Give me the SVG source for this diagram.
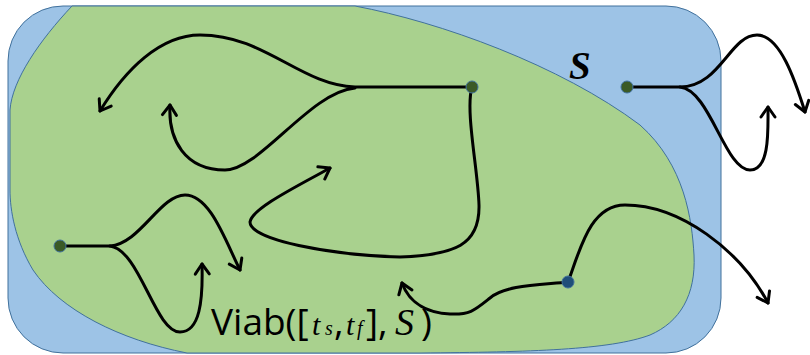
<svg xmlns="http://www.w3.org/2000/svg" width="810" height="355" viewBox="0 0 810 355">
<style>
.tr{fill:none;stroke:#000;stroke-width:3;stroke-linecap:round;stroke-linejoin:round}
.dot{fill:#3b5a26;stroke:#41719c;stroke-width:1}
.lbl{font-family:"Open Sans","Liberation Sans",sans-serif;font-size:37px;fill:#000}
.ser{font-family:"Liberation Serif",serif;font-style:italic}
</style>
<defs>
<marker id="ah" markerUnits="userSpaceOnUse" markerWidth="30" markerHeight="30" refX="0" refY="0" viewBox="-15 -15 30 30" orient="auto" overflow="visible">
<path d="M-10,-7 L0,0 L-10,7" fill="none" stroke="#000" stroke-width="3" stroke-linecap="round" stroke-linejoin="round"/>
</marker>
</defs>
<g id="region-S">
<rect x="8" y="6" width="713" height="347" rx="55" ry="55" fill="#9dc3e6" stroke="#41719c" stroke-width="1"/>
</g>
<g id="region-viab">
<path d="M72,6 L355,6 C440,22 560,65 640,125 C685,165 692,220 694,255 C696,295 680,322 650,335 C610,350 530,352 420,353 L187,353 C120,340 60,310 33,270 C15,240 10,210 10,190 L10,110 C12,80 40,40 72,6 Z" fill="#a9d18e" stroke="#41719c" stroke-width="1"/>
</g>
<g id="connectors">
<path class="tr" d="M472,87 L355,87 C300,85 265,35 200,35 C160,35 125,70 100,111" marker-end="url(#ah)"/>
<path class="tr" d="M355,88 C310,92 260,170 225,170 C185,170 168,140 170,105" marker-end="url(#ah)"/>
<path class="tr" d="M472,87 C465,110 478,170 479,205 C480,245 455,255 400,257 C330,255 250,240 250,222 C252,208 300,185 330,168" marker-end="url(#ah)"/>
<path class="tr" d="M60,246 L110,246 C140,244 160,195 185,195 C210,195 225,240 240,270" marker-end="url(#ah)"/>
<path class="tr" d="M110,246 C140,250 155,332 180,332 C200,332 203,300 202,264" marker-end="url(#ah)"/>
<path class="tr" d="M627,87 L680,87 C720,87 730,35 757,35 C780,35 795,80 805,112" marker-end="url(#ah)"/>
<path class="tr" d="M680,87 C710,90 725,170 750,170 C770,170 768,130 768,107" marker-end="url(#ah)"/>
<path class="tr" d="M568,282 C580,250 590,205 625,205 C680,205 740,250 768,303" marker-end="url(#ah)"/>
<path class="tr" d="M568,282 C540,285 505,285 490,298 C475,310 470,315 450,314 C430,313 410,305 402,283" marker-end="url(#ah)"/>
</g>
<g id="node-a"><circle class="dot" cx="472" cy="87" r="6"/></g>
<g id="node-b"><circle class="dot" cx="60" cy="246" r="6"/></g>
<g id="node-c"><circle class="dot" cx="627" cy="87" r="6"/></g>
<g id="node-d"><circle cx="568" cy="282" r="6" fill="#1f4e79" stroke="#41719c" stroke-width="1"/></g>
<g id="labels">
<text x="569" y="79" font-family="Liberation Serif,serif" font-style="italic" font-weight="bold" font-size="39">S</text>
<text class="lbl" x="211" y="335">Viab([<tspan class="ser" x="312" font-size="30">t</tspan><tspan class="ser" x="325" font-size="20">s</tspan><tspan x="334">,</tspan><tspan class="ser" x="346" font-size="30">t</tspan><tspan class="ser" x="357" font-size="20">f</tspan><tspan x="366">],</tspan><tspan class="ser" x="395" font-size="38">S</tspan><tspan x="421">)</tspan></text>
</g>
</svg>
